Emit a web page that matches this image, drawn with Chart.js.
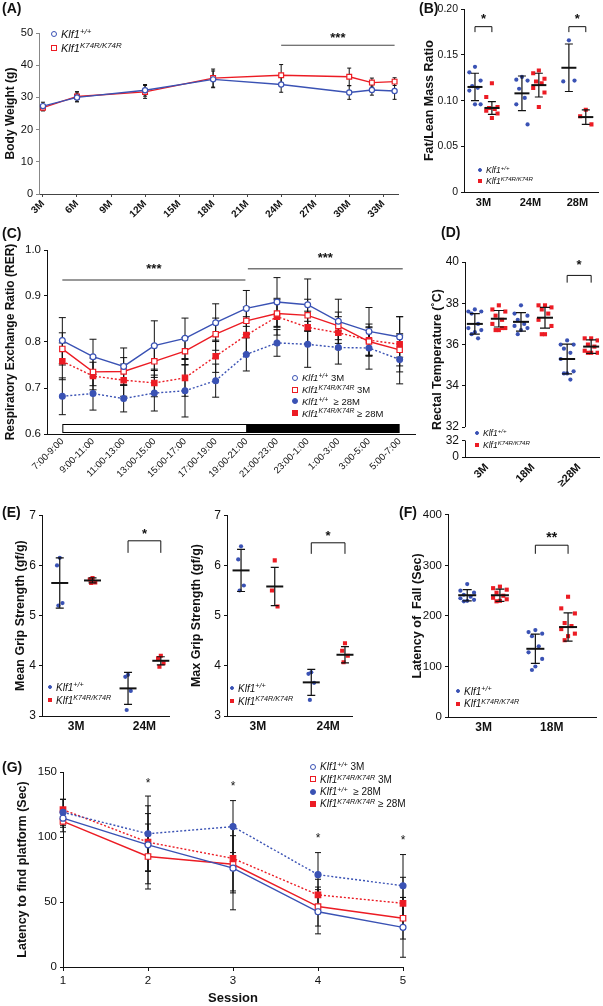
<!DOCTYPE html>
<html>
<head>
<meta charset="utf-8">
<script src="https://cdn.jsdelivr.net/npm/chart.js@4.4.1/dist/chart.umd.min.js"></script>
<style>
  body { margin: 0; width: 603px; height: 1006px; position: relative; overflow: hidden; background: #fff;
         font-family: "Liberation Sans", Arial, sans-serif; color: #111; }
  canvas { position: absolute; }
  .tag { position: absolute; font-size: 14px; font-weight: bold; z-index: 2; }
  .leg { position: absolute; z-index: 2; white-space: nowrap; }
  .leg .row { display: flex; align-items: center; }
  .leg .mk { display: inline-block; box-sizing: border-box; margin-right: 4px; flex: none; }
  .leg sup { font-size: 0.72em; position: relative; top: -0.45em; vertical-align: 0; line-height: 0; }
</style>
</head>
<body>
<div class="tag" style="left:2px;top:0px">(A)</div>
<div class="tag" style="left:419px;top:0px">(B)</div>
<div class="tag" style="left:2px;top:225px">(C)</div>
<div class="tag" style="left:441px;top:224px">(D)</div>
<div class="tag" style="left:2px;top:504px">(E)</div>
<div class="tag" style="left:399px;top:504px">(F)</div>
<div class="tag" style="left:2px;top:759px">(G)</div>
<script>
const FONT = '"Liberation Sans", Arial, sans-serif';
const BLUE = "#3a52b4";
const RED = "#ec1c24";
const INK = "#111";

// --- (A) body weight ---
const ageMonths = [3, 6, 12, 18, 24, 30, 32, 34];
const ageTicks = [3, 6, 9, 12, 15, 18, 21, 24, 27, 30, 33];
const weightWt = [27.3, 30.0, 32.2, 35.6, 34.0, 31.5, 32.3, 32.0];
const weightWtSd = [1.2, 1.4, 1.8, 2.6, 2.4, 2.1, 1.6, 2.6];
const weightKi = [26.8, 30.3, 31.7, 36.0, 36.9, 36.4, 34.6, 34.9];
const weightKiSd = [1.0, 1.5, 2.0, 2.8, 3.3, 2.7, 1.4, 1.2];

// --- (B) fat / lean ---
const fatGroups = ["3M", "24M", "28M"];
const fatWt = [[0.137, 0.131, 0.122, 0.116, 0.114, 0.111, 0.096, 0.096], [0.126, 0.123, 0.122, 0.113, 0.103, 0.096, 0.074], [0.166, 0.121, 0.122]];
const fatWtMean = [0.115, 0.108, 0.136];
const fatWtSd = [0.015, 0.019, 0.026];
const fatKi = [[0.119, 0.104, 0.093, 0.092, 0.091, 0.089, 0.086, 0.081], [0.133, 0.130, 0.124, 0.121, 0.119, 0.114, 0.109, 0.093], [0.090, 0.083, 0.074]];
const fatKiMean = [0.092, 0.117, 0.082];
const fatKiSd = [0.007, 0.013, 0.008];

// --- (C) RER ---
const rerSlots = ["7:00-9:00", "9:00-11:00", "11:00-13:00", "13:00-15:00", "15:00-17:00", "17:00-19:00",
                  "19:00-21:00", "21:00-23:00", "23:00-1:00", "1:00-3:00", "3:00-5:00", "5:00-7:00"];
const rerWt3 = [0.803, 0.768, 0.747, 0.792, 0.808, 0.842, 0.873, 0.887, 0.881, 0.845, 0.823, 0.811];
const rerWt3Sd = [0.05, 0.038, 0.04, 0.054, 0.044, 0.041, 0.039, 0.053, 0.056, 0.048, 0.052, 0.044];
const rerKi3 = [0.785, 0.735, 0.736, 0.758, 0.780, 0.817, 0.846, 0.862, 0.858, 0.835, 0.801, 0.783];
const rerKi3Sd = [0.035, 0.03, 0.03, 0.035, 0.03, 0.035, 0.03, 0.03, 0.035, 0.03, 0.03, 0.035];
const rerWt28 = [0.682, 0.688, 0.677, 0.689, 0.694, 0.716, 0.773, 0.798, 0.795, 0.788, 0.787, 0.762];
const rerWt28Sd = [0.04, 0.036, 0.029, 0.039, 0.057, 0.036, 0.036, 0.029, 0.05, 0.036, 0.046, 0.053];
const rerKi28 = [0.758, 0.726, 0.717, 0.711, 0.722, 0.769, 0.815, 0.855, 0.832, 0.820, 0.804, 0.795];
const rerKi28Sd = [0.04, 0.03, 0.035, 0.03, 0.04, 0.035, 0.04, 0.04, 0.035, 0.035, 0.035, 0.06];

// --- (D) rectal temperature ---
const tempGroups = ["3M", "18M", "≥28M"];
const tempWt = [[37.7, 37.6, 37.6, 37.5, 37.0, 36.8, 36.7, 36.6, 36.5, 36.3], [37.9, 37.5, 37.4, 37.2, 37.0, 36.9, 36.8, 36.7, 36.5], [36.2, 36.0, 36.0, 35.8, 35.6, 35.3, 34.7, 34.6, 34.6, 34.3]];
const tempWtMean = [37.0, 37.1, 35.3];
const tempWtSd = [0.5, 0.45, 0.72];
const tempKi = [[37.9, 37.7, 37.6, 37.4, 37.2, 37.0, 36.8, 36.7, 36.7, 36.8], [37.9, 37.9, 37.8, 37.7, 37.5, 37.2, 36.9, 36.5, 36.5], [36.3, 36.3, 36.2, 36.0, 35.9, 35.7, 35.6, 35.6, 35.6]];
const tempKiMean = [37.25, 37.3, 35.9];
const tempKiSd = [0.4, 0.5, 0.33];
const tempAxisTicks = [30.55, 31.35, 32, 34, 36, 38, 40]; // broken axis: 0 and 32 below the gap
const tempAxisLabels = ["0", "32", "32", "34", "36", "38", "40"];

// --- (E) grip strength ---
const gripGroups = ["3M", "24M"];
const meanGripWt = [[6.15, 6.0, 5.25, 5.2], [3.82, 3.78, 3.5, 3.12]];
const meanGripWtMean = [5.65, 3.55];
const meanGripWtSd = [0.5, 0.32];
const meanGripKi = [[5.75, 5.72, 5.66, 5.65], [4.2, 4.15, 4.05, 3.98]];
const meanGripKiMean = [5.7, 4.1];
const meanGripKiSd = [0.05, 0.08];
const maxGripWt = [[6.38, 6.12, 5.6, 5.5], [3.87, 3.84, 3.66, 3.32]];
const maxGripWtMean = [5.9, 3.67];
const maxGripWtSd = [0.42, 0.26];
const maxGripKi = [[6.1, 5.5, 5.18], [4.45, 4.3, 4.2, 4.07]];
const maxGripKiMean = [5.58, 4.22];
const maxGripKiSd = [0.38, 0.16];

// --- (F) rotarod ---
const rotaGroups = ["3M", "18M"];
const rotaWt = [[263, 250, 246, 242, 238, 235, 232, 230, 229], [172, 168, 165, 160, 140, 128, 115, 100, 93]];
const rotaWtMean = [241, 135];
const rotaWtSd = [11, 29];
const rotaKi = [[258, 255, 252, 246, 240, 236, 233, 230, 229], [238, 215, 205, 186, 180, 174, 165, 160, 152]];
const rotaKiMean = [241, 178];
const rotaKiSd = [12, 28];

// --- (G) water maze ---
const sessions = ["1", "2", "3", "4", "5"];
const latWt3 = [114.5, 94, 76, 42.5, 30.5];
const latWt3Sd = [7, 30, 32, 17, 23];
const latKi3 = [112, 85, 79, 46.5, 37.5];
const latKi3Sd = [8, 25, 22, 15, 16];
const latWt28 = [119, 102.5, 108, 71, 62.5];
const latWt28Sd = [10, 29, 20, 17, 24];
const latKi28 = [121, 96, 83.5, 55.5, 49];
const latKi28Sd = [8, 22, 25, 12, 20];

Chart.defaults.font.family = FONT;
Chart.defaults.color = INK;
Chart.defaults.animation = false;

// error bars, mean/SD bars, brackets and significance marks
const marks = {
    id: "marks",
    beforeDatasetsDraw(chart, args, opts) {
        const ctx = chart.ctx, xs = chart.scales.x, ys = chart.scales.y;
        if (opts.dayNight) {
            const d = opts.dayNight;
            const x0 = xs.getPixelForValue(d.from), x1 = xs.getPixelForValue(d.mid), x2 = xs.getPixelForValue(d.to);
            const yb = chart.chartArea.bottom - 1;
            ctx.save();
            ctx.fillStyle = "#000";
            ctx.fillRect(x1, yb - d.h, x2 - x1, d.h);
            ctx.strokeStyle = "#000";
            ctx.lineWidth = 1;
            ctx.strokeRect(x0 + 0.5, yb - d.h + 0.5, x1 - x0, d.h - 1);
            ctx.restore();
        }
        chart.data.datasets.forEach((ds, di) => {
            if (!ds.err) return;
            const meta = chart.getDatasetMeta(di);
            ctx.save();
            ctx.strokeStyle = INK;
            ctx.lineWidth = 1;
            meta.data.forEach((el, i) => {
                const d = ds.data[i];
                const v = typeof d === "number" ? d : d.y;
                const y1 = ys.getPixelForValue(v + ds.err[i]);
                const y2 = ys.getPixelForValue(v - ds.err[i]);
                const c = ds.cap / 2;
                ctx.beginPath();
                ctx.moveTo(el.x, y1); ctx.lineTo(el.x, y2);
                ctx.moveTo(el.x - c, y1); ctx.lineTo(el.x + c, y1);
                ctx.moveTo(el.x - c, y2); ctx.lineTo(el.x + c, y2);
                ctx.stroke();
            });
            ctx.restore();
        });
    },
    afterDatasetsDraw(chart, args, opts) {
        const ctx = chart.ctx, xs = chart.scales.x, ys = chart.scales.y;
        ctx.save();
        ctx.strokeStyle = INK;
        chart.data.datasets.forEach(ds => {
            if (!ds.summary) return;
            const s = ds.summary;
            s.mean.forEach((m, g) => {
                const x = xs.getPixelForValue(s.x[g]);
                const yT = ys.getPixelForValue(m + s.sd[g]);
                const yB = ys.getPixelForValue(m - s.sd[g]);
                const yM = ys.getPixelForValue(m);
                ctx.lineWidth = 1.2;
                ctx.beginPath();
                ctx.moveTo(x, yT); ctx.lineTo(x, yB);
                ctx.moveTo(x - s.cap / 2, yT); ctx.lineTo(x + s.cap / 2, yT);
                ctx.moveTo(x - s.cap / 2, yB); ctx.lineTo(x + s.cap / 2, yB);
                ctx.stroke();
                ctx.lineWidth = 2;
                ctx.beginPath();
                ctx.moveTo(x - s.w / 2, yM); ctx.lineTo(x + s.w / 2, yM);
                ctx.stroke();
            });
        });
        const label = (t, x, y, font) => {
            ctx.fillStyle = INK;
            ctx.font = font || "bold 13px " + FONT;
            ctx.textAlign = "center";
            ctx.textBaseline = "middle";
            ctx.fillText(t, x, y);
        };
        (opts.lines || []).forEach(l => {
            const x1 = xs.getPixelForValue(l.x1), x2 = xs.getPixelForValue(l.x2), y = ys.getPixelForValue(l.y);
            ctx.strokeStyle = l.color || INK;
            ctx.lineWidth = l.width || 1;
            ctx.beginPath(); ctx.moveTo(x1, y); ctx.lineTo(x2, y); ctx.stroke();
            label(l.text, (x1 + x2) / 2, ys.getPixelForValue(l.ty), l.font);
        });
        (opts.brackets || []).forEach(b => {
            const x1 = xs.getPixelForValue(b.x1), x2 = xs.getPixelForValue(b.x2);
            const y = ys.getPixelForValue(b.y), yl = ys.getPixelForValue(b.leg);
            ctx.strokeStyle = INK;
            ctx.lineWidth = 1;
            ctx.beginPath();
            ctx.moveTo(x1, yl); ctx.lineTo(x1, y); ctx.lineTo(x2, y); ctx.lineTo(x2, yl);
            ctx.stroke();
            label(b.text, (x1 + x2) / 2, ys.getPixelForValue(b.ty), b.font);
        });
        (opts.stars || []).forEach(s => label(s.text, xs.getPixelForValue(s.x), ys.getPixelForValue(s.y), s.font));
        if (opts.axisBreak) {
            const b = opts.axisBreak, x = chart.chartArea.left + 0.5;
            ctx.strokeStyle = INK;
            ctx.lineWidth = 1;
            ctx.beginPath();
            ctx.moveTo(x, ys.getPixelForValue(ys.max)); ctx.lineTo(x, ys.getPixelForValue(b.upper));
            ctx.moveTo(x, ys.getPixelForValue(b.lower)); ctx.lineTo(x, chart.chartArea.bottom);
            ctx.stroke();
        }
        ctx.restore();
    }
};

function makeCanvas(l, t, w, h) {
    const c = document.createElement("canvas");
    c.width = w; c.height = h;
    c.style.left = l + "px"; c.style.top = t + "px";
    c.style.width = w + "px"; c.style.height = h + "px";
    document.body.appendChild(c);
    return c;
}

function addLegend(x, y, rowH, size, rows) {
    const box = document.createElement("div");
    box.className = "leg";
    box.style.left = x + "px";
    box.style.top = (y - rowH / 2) + "px";
    box.style.fontSize = size + "px";
    rows.forEach(r => {
        const row = document.createElement("div");
        row.className = "row";
        row.style.height = rowH + "px";
        const m = r.m;
        const mk = `<span class="mk" style="width:${m}px;height:${m}px;border:1px solid ${r.color};` +
            `background:${r.fill ? r.color : "#fff"};border-radius:${r.round ? "50%" : "0"}"></span>`;
        row.innerHTML = mk + `<span><i>Klf1<sup>${r.sup}</sup></i>${r.tail || ""}</span>`;
        box.appendChild(row);
    });
    document.body.appendChild(box);
}

function lineSet(data, sd, color, shape, filled, dotted, cap, r) {
    return {
        data, err: sd, cap,
        borderColor: color, borderWidth: 1.4, borderDash: dotted ? [2, 2] : [],
        pointStyle: shape, pointRadius: shape === "rect" ? r * 1.3 : r,
        pointBorderColor: color, pointBorderWidth: 1.2,
        pointBackgroundColor: filled ? color : "#fff", tension: 0
    };
}

// --- (A) ---
new Chart(makeCanvas(0, 0, 410, 232), {
    type: "line",
    data: {
        datasets: [
            lineSet(ageMonths.map((m, i) => ({ x: m, y: weightWt[i] })), weightWtSd, BLUE, "circle", false, false, 4, 2.6),
            lineSet(ageMonths.map((m, i) => ({ x: m, y: weightKi[i] })), weightKiSd, RED, "rect", false, false, 4, 2.6)
        ]
    },
    options: {
        responsive: false,
        layout: { padding: { top: 33, right: 12, left: 0, bottom: 0 } },
        plugins: {
            legend: { display: false }, tooltip: { enabled: false },
            marks: { lines: [{ x1: 24, x2: 34, y: 46.2, text: "***", ty: 48.4, color: "#444" }] }
        },
        scales: {
            x: {
                type: "linear", min: 2.65, max: 34.3,
                afterBuildTicks: s => { s.ticks = ageTicks.map(v => ({ value: v })); },
                afterFit: s => { s.height = 38; },
                ticks: { callback: v => v + "M", minRotation: 45, maxRotation: 45, font: { size: 10, weight: "bold" }, padding: 1 },
                grid: { drawOnChartArea: false, tickLength: 3, color: "#444" },
                border: { color: "#444" }
            },
            y: {
                min: 0, max: 50,
                afterFit: s => { s.width = 39; },
                ticks: { stepSize: 10, font: { size: 11 } },
                title: { display: true, text: "Body Weight (g)", font: { size: 12, weight: "bold" }, padding: { top: 3, bottom: 0 } },
                grid: { drawOnChartArea: false, tickLength: 3, color: "#888" },
                border: { color: "#888" }
            }
        }
    },
    plugins: [marks]
});
addLegend(51, 34, 14, 11, [
    { m: 6, color: BLUE, round: true, fill: false, sup: "+/+" },
    { m: 6, color: RED, round: false, fill: false, sup: "K74R/K74R" }
]);

// --- dot plots with mean ± SD ---
function dotPanel(p) {
    const jit = [0, -1, 1, -0.5, 0.5, -1, 1, 0, -0.5, 0.5];
    const pts = (groups, side) => groups.flatMap((vals, g) =>
        vals.map((v, k) => ({ x: g + 1 + side * p.off + jit[k % jit.length] * p.spread, y: v })));
    const centers = side => p.groups.map((_, g) => g + 1 + side * p.off);
    const y = {
        min: p.yMin, max: p.yMax,
        afterFit: s => { s.width = p.yW; },
        ticks: { stepSize: p.yStep, font: { size: p.yTick }, callback: p.yFmt },
        title: { display: true, text: p.yTitle, font: { size: p.titleSize || 12.5, weight: "bold" }, padding: { top: p.titlePad, bottom: 0 } },
        grid: { drawOnChartArea: false, tickLength: 3, color: INK },
        border: { display: !p.axisBreak, color: INK }
    };
    if (p.yTicks) y.afterBuildTicks = s => { s.ticks = p.yTicks.map(v => ({ value: v })); };
    const [l, t, w, h] = p.box;
    return new Chart(makeCanvas(l, t, w, h), {
        type: "scatter",
        data: {
            datasets: [
                { data: pts(p.wt, -1), pointStyle: "circle", pointRadius: 2.1, backgroundColor: BLUE, borderWidth: 0,
                  summary: { x: centers(-1), mean: p.wtMean, sd: p.wtSd, w: p.meanW, cap: p.cap } },
                { data: pts(p.ki, 1), pointStyle: "rect", pointRadius: 2.9, backgroundColor: RED, borderWidth: 0,
                  summary: { x: centers(1), mean: p.kiMean, sd: p.kiSd, w: p.meanW, cap: p.cap } }
            ]
        },
        options: {
            responsive: false,
            layout: { padding: { top: p.padTop, right: p.padRight, left: 0, bottom: 0 } },
            plugins: {
                legend: { display: false }, tooltip: { enabled: false },
                marks: {
                    brackets: p.brackets.map(b => ({ x1: b.g - p.off, x2: b.g + p.off, y: b.y, leg: b.leg, text: b.text, ty: b.ty, font: b.font })),
                    axisBreak: p.axisBreak
                }
            },
            scales: {
                x: {
                    type: "linear", min: p.xMin, max: p.xMax,
                    afterBuildTicks: s => { s.ticks = p.groups.map((_, g) => ({ value: g + 1 })); },
                    afterFit: s => { s.height = p.xH; },
                    ticks: { callback: v => p.groups[Math.round(v) - 1], minRotation: p.rot, maxRotation: p.rot,
                             font: { size: p.xTick, weight: "bold" }, padding: p.xPad },
                    grid: { display: false, drawTicks: false },
                    border: { color: INK }
                },
                y
            }
        },
        plugins: [marks]
    });
}

// (B)
dotPanel({
    box: [410, 0, 193, 215], padTop: 7, padRight: 5, yW: 54, xH: 23,
    groups: fatGroups, wt: fatWt, wtMean: fatWtMean, wtSd: fatWtSd, ki: fatKi, kiMean: fatKiMean, kiSd: fatKiSd,
    off: 0.18, spread: 0.12, xMin: 0.586, xMax: 3.44, rot: 0, xTick: 11, xPad: 4,
    yMin: 0, yMax: 0.2, yStep: 0.05, yTick: 10.5, yFmt: v => v === 0 ? "0" : v.toFixed(2),
    yTitle: "Fat/Lean Mass Ratio", titleSize: 12.5, titlePad: 12, meanW: 15, cap: 8,
    brackets: [
        { g: 1, y: 0.181, leg: 0.175, text: "*", ty: 0.189 },
        { g: 3, y: 0.181, leg: 0.175, text: "*", ty: 0.189 }
    ]
});
addLegend(478, 170, 11, 8.5, [
    { m: 4, color: BLUE, round: true, fill: true, sup: "+/+" },
    { m: 4, color: RED, round: false, fill: true, sup: "K74R/K74R" }
]);

// (D)
dotPanel({
    box: [430, 232, 173, 278], padTop: 30, padRight: 3, yW: 35, xH: 53,
    groups: tempGroups, wt: tempWt, wtMean: tempWtMean, wtSd: tempWtSd, ki: tempKi, kiMean: tempKiMean, kiSd: tempKiSd,
    off: 0.26, spread: 0.14, xMin: 0.527, xMax: 3.43, rot: 45, xTick: 11, xPad: 4,
    yMin: 30.55, yMax: 40, yTicks: tempAxisTicks, yTick: 12, yFmt: (v, i) => tempAxisLabels[i],
    yTitle: "Rectal Temperature (˚C)", titleSize: 12.5, titlePad: 0, meanW: 16, cap: 10,
    axisBreak: { upper: 32, lower: 31.35 },
    brackets: [{ g: 3, y: 39.35, leg: 39.0, text: "*", ty: 39.82 }]
});
addLegend(475, 433, 12, 8.5, [
    { m: 4, color: BLUE, round: true, fill: true, sup: "+/+" },
    { m: 4, color: RED, round: false, fill: true, sup: "K74R/K74R" }
]);

// (E) mean grip
dotPanel({
    box: [0, 505, 185, 240], padTop: 9, padRight: 16, yW: 42, xH: 29,
    groups: gripGroups, wt: meanGripWt, wtMean: meanGripWtMean, wtSd: meanGripWtSd,
    ki: meanGripKi, kiMean: meanGripKiMean, kiSd: meanGripKiSd,
    off: 0.24, spread: 0.04, xMin: 0.5, xMax: 2.36, rot: 0, xTick: 12, xPad: 3,
    yMin: 3, yMax: 7, yStep: 1, yTick: 12,
    yTitle: "Mean Grip Strength (gf/g)", titlePad: 13, meanW: 17, cap: 8,
    brackets: [{ g: 2, y: 6.49, leg: 6.25, text: "*", ty: 6.62 }]
});
addLegend(48, 687, 13, 10, [
    { m: 4, color: BLUE, round: true, fill: true, sup: "+/+" },
    { m: 4, color: RED, round: false, fill: true, sup: "K74R/K74R" }
]);

// (E) max grip
dotPanel({
    box: [185, 505, 175, 240], padTop: 9, padRight: 8, yW: 42, xH: 29,
    groups: gripGroups, wt: maxGripWt, wtMean: maxGripWtMean, wtSd: maxGripWtSd,
    ki: maxGripKi, kiMean: maxGripKiMean, kiSd: maxGripKiSd,
    off: 0.24, spread: 0.04, xMin: 0.56, xMax: 2.34, rot: 0, xTick: 12, xPad: 3,
    yMin: 3, yMax: 7, yStep: 1, yTick: 12,
    yTitle: "Max Grip Strength (gf/g)", titlePad: 4, meanW: 17, cap: 8,
    brackets: [{ g: 2, y: 6.45, leg: 6.23, text: "*", ty: 6.58 }]
});
addLegend(230, 688, 13, 10, [
    { m: 4, color: BLUE, round: true, fill: true, sup: "+/+" },
    { m: 4, color: RED, round: false, fill: true, sup: "K74R/K74R" }
]);

// (F)
dotPanel({
    box: [405, 505, 198, 240], padTop: 5, padRight: 7, yW: 43, xH: 28,
    groups: rotaGroups, wt: rotaWt, wtMean: rotaWtMean, wtSd: rotaWtSd, ki: rotaKi, kiMean: rotaKiMean, kiSd: rotaKiSd,
    off: 0.24, spread: 0.1, xMin: 0.478, xMax: 2.65, rot: 0, xTick: 12, xPad: 3,
    yMin: 0, yMax: 400, yStep: 100, yTick: 11.5,
    yTitle: "Latency of  Fall (Sec)", titlePad: 5, meanW: 18, cap: 9,
    brackets: [{ g: 2, y: 340, leg: 323, text: "**", ty: 354, font: "bold 14px " + FONT }]
});
addLegend(456, 691, 12.5, 10, [
    { m: 4, color: BLUE, round: true, fill: true, sup: "+/+" },
    { m: 4, color: RED, round: false, fill: true, sup: "K74R/K74R" }
]);

// --- (C) ---
new Chart(makeCanvas(0, 232, 430, 278), {
    type: "line",
    data: {
        labels: rerSlots,
        datasets: [
            lineSet(rerWt3, rerWt3Sd, BLUE, "circle", false, false, 7, 2.9),
            lineSet(rerKi3, rerKi3Sd, RED, "rect", false, false, 7, 2.9),
            lineSet(rerWt28, rerWt28Sd, BLUE, "circle", true, true, 7, 2.9),
            lineSet(rerKi28, rerKi28Sd, RED, "rect", true, true, 7, 2.9)
        ]
    },
    options: {
        responsive: false,
        layout: { padding: { top: 18, right: 15, left: 0, bottom: 0 } },
        plugins: {
            legend: { display: false }, tooltip: { enabled: false },
            marks: {
                dayNight: { from: 0, mid: 6, to: 11, h: 9 },
                lines: [
                    { x1: 0, x2: 5.97, y: 0.935, text: "***", ty: 0.958, color: "#777", width: 1.5 },
                    { x1: 6.05, x2: 11.1, y: 0.959, text: "***", ty: 0.982, color: "#777", width: 1.5 }
                ]
            }
        },
        scales: {
            x: {
                type: "category", offset: true,
                afterFit: s => { s.height = 76; },
                ticks: { minRotation: 45, maxRotation: 45, autoSkip: false, font: { size: 9.5 }, padding: 2 },
                grid: { display: false, drawTicks: false },
                border: { color: INK }
            },
            y: {
                min: 0.6, max: 1.0,
                afterFit: s => { s.width = 47; },
                ticks: { stepSize: 0.1, font: { size: 11.5 }, callback: v => v.toFixed(1) },
                title: { display: true, text: "Respiratory Exchange Ratio (RER)", font: { size: 12, weight: "bold" }, padding: { top: 3, bottom: 0 } },
                grid: { drawOnChartArea: false, tickLength: 3, color: INK },
                border: { color: INK }
            }
        }
    },
    plugins: [marks]
});
const fourRows = [
    { m: 6, color: BLUE, round: true, fill: false, sup: "+/+", tail: "&nbsp;3M" },
    { m: 6, color: RED, round: false, fill: false, sup: "K74R/K74R", tail: "&nbsp;3M" },
    { m: 6, color: BLUE, round: true, fill: true, sup: "+/+", tail: "&nbsp;&nbsp;≥ 28M" },
    { m: 6, color: RED, round: false, fill: true, sup: "K74R/K74R", tail: "&nbsp;≥ 28M" }
];
addLegend(292, 378, 11.7, 9.5, fourRows);

// --- (G) ---
new Chart(makeCanvas(0, 760, 420, 246), {
    type: "line",
    data: {
        labels: sessions,
        datasets: [
            lineSet(latWt3, latWt3Sd, BLUE, "circle", false, false, 6, 3),
            lineSet(latKi3, latKi3Sd, RED, "rect", false, false, 6, 3),
            lineSet(latWt28, latWt28Sd, BLUE, "circle", true, true, 6, 3),
            lineSet(latKi28, latKi28Sd, RED, "rect", true, true, 6, 3)
        ]
    },
    options: {
        responsive: false,
        layout: { padding: { top: 12, right: 17, left: 0, bottom: 0 } },
        plugins: {
            legend: { display: false }, tooltip: { enabled: false },
            marks: {
                stars: [
                    { x: 1, y: 141, text: "*", font: "12px " + FONT },
                    { x: 2, y: 138.5, text: "*", font: "12px " + FONT },
                    { x: 3, y: 99, text: "*", font: "12px " + FONT },
                    { x: 4, y: 97, text: "*", font: "12px " + FONT }
                ]
            }
        },
        scales: {
            x: {
                type: "category", offset: false,
                afterFit: s => { s.height = 39; },
                ticks: { font: { size: 11.5 }, padding: 3, maxRotation: 0 },
                title: { display: true, text: "Session", font: { size: 13, weight: "bold" }, padding: { top: 0, bottom: 0 } },
                grid: { drawOnChartArea: false, tickLength: 4, color: INK },
                border: { color: INK }
            },
            y: {
                min: 0, max: 150,
                afterFit: s => { s.width = 63; },
                ticks: { stepSize: 50, font: { size: 11.5 } },
                title: { display: true, text: "Latency to find platform (Sec)", font: { size: 12.5, weight: "bold" }, padding: { top: 15, bottom: 0 } },
                grid: { drawOnChartArea: false, tickLength: 3, color: INK },
                border: { color: INK }
            }
        }
    },
    plugins: [marks]
});
addLegend(310, 767, 12.3, 10, fourRows);
</script>
</body>
</html>
